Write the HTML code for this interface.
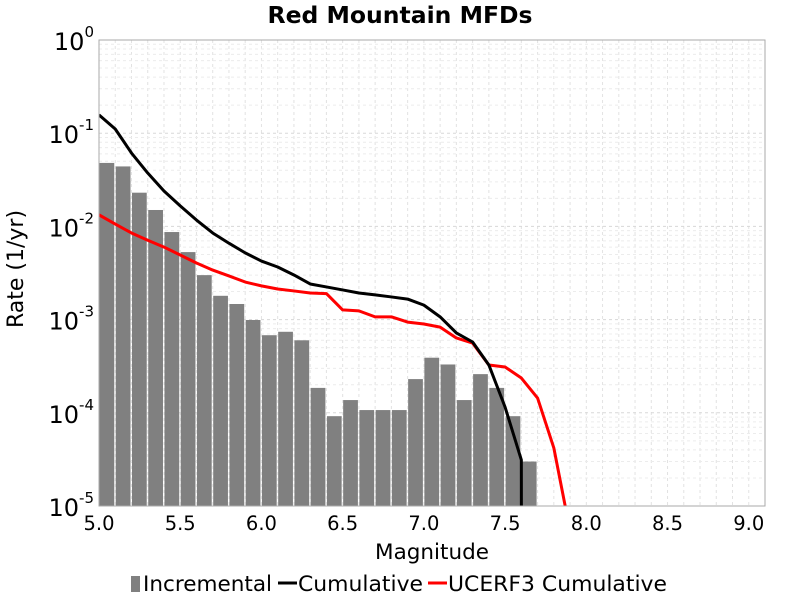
<!DOCTYPE html>
<html><head><meta charset="utf-8"><style>
html,body{margin:0;padding:0;background:#fff;overflow:hidden;width:800px;height:600px;font-family:"DejaVu Sans","Liberation Sans",sans-serif}
svg{display:block}
</style></head><body>
<svg id="c" width="800" height="600" xmlns="http://www.w3.org/2000/svg" font-family="DejaVu Sans, sans-serif">
<text x="400" y="23" text-anchor="middle" font-size="23.5" font-weight="bold">Red Mountain MFDs</text>
<g id="grid"></g><g id="bars"></g><g id="lines"></g><g id="axes"></g>
<text x="432" y="559" text-anchor="middle" font-size="21.5">Magnitude</text>
<text transform="translate(23,269) rotate(-90)" text-anchor="middle" font-size="22">Rate (1/yr)</text>
<g font-size="21">
<g><rect x="131" y="576" width="9" height="16" fill="#808080"/><text x="143" y="591" textLength="129" lengthAdjust="spacingAndGlyphs">Incremental</text></g>
<g><line x1="278" y1="583" x2="297" y2="583" stroke="#000" stroke-width="3"/><text x="298" y="591" textLength="125" lengthAdjust="spacingAndGlyphs">Cumulative</text></g>
<g><line x1="428" y1="583" x2="447" y2="583" stroke="#f00" stroke-width="3"/><text x="448" y="591" textLength="219" lengthAdjust="spacingAndGlyphs">UCERF3 Cumulative</text></g>
</g>
</svg>
<script>
const incMags=[5.0,5.1,5.2,5.3,5.4,5.5,5.6,5.7,5.8,5.9,6.0,6.1,6.2,6.3,6.4,6.5,6.6,6.7,6.8,6.9,7.0,7.1,7.2,7.3,7.4,7.5,7.6];
const incVals=[4.8e-2,4.4e-2,2.3e-2,1.5e-2,8.7e-3,5.3e-3,3.0e-3,1.8e-3,1.47e-3,9.9e-4,6.8e-4,7.4e-4,6.0e-4,1.85e-4,9.2e-5,1.37e-4,1.07e-4,1.07e-4,1.07e-4,2.3e-4,3.9e-4,3.3e-4,1.37e-4,2.6e-4,1.85e-4,9.2e-5,3.0e-5];
const cumMags=[5.0,5.1,5.2,5.3,5.4,5.5,5.6,5.7,5.8,5.9,6.0,6.1,6.2,6.3,6.4,6.5,6.6,6.7,6.8,6.9,7.0,7.1,7.2,7.3,7.4,7.5,7.6,7.601];
const cumVals=[1.57e-1,1.11e-1,6.13e-2,3.74e-2,2.40e-2,1.66e-2,1.17e-2,8.5e-3,6.6e-3,5.2e-3,4.25e-3,3.67e-3,3.01e-3,2.41e-3,2.24e-3,2.08e-3,1.93e-3,1.84e-3,1.75e-3,1.66e-3,1.43e-3,1.07e-3,7.2e-4,5.75e-4,3.26e-4,1.15e-4,3.12e-5,1e-7];
const u3Mags=[5.0,5.1,5.2,5.3,5.4,5.5,5.6,5.7,5.8,5.9,6.0,6.1,6.2,6.3,6.4,6.5,6.6,6.7,6.8,6.9,7.0,7.1,7.2,7.3,7.4,7.5,7.6,7.7,7.8,7.9];
const u3Vals=[1.33e-2,1.06e-2,8.5e-3,7.1e-3,6.0e-3,4.93e-3,4.05e-3,3.40e-3,2.94e-3,2.53e-3,2.30e-3,2.13e-3,2.03e-3,1.93e-3,1.9e-3,1.27e-3,1.24e-3,1.07e-3,1.07e-3,9.4e-4,8.97e-4,8.3e-4,6.35e-4,5.6e-4,3.26e-4,3.1e-4,2.36e-4,1.44e-4,4.2e-5,5.4e-6];
const xTicks=["5.0","5.5","6.0","6.5","7.0","7.5","8.0","8.5","9.0"];
const yExps=[0,-1,-2,-3,-4,-5];
const X0=99,X1=765,Y0=40,Y1=506,xmin=5.0,xmax=9.1;
const sx=m=>X0+(m-xmin)/(xmax-xmin)*(X1-X0);
const sy=v=>Y0+(-Math.log10(v))/5*(Y1-Y0);
const NS="http://www.w3.org/2000/svg";
function mk(t,a,p){const e=document.createElementNS(NS,t);for(const k in a)e.setAttribute(k,a[k]);p.appendChild(e);return e;}
const grid=document.getElementById('grid'),bars=document.getElementById('bars'),lines=document.getElementById('lines'),axes=document.getElementById('axes');
for(let m=5.0;m<=9.05;m+=0.1){const x=sx(m);const l=mk('line',{x1:x,x2:x,y1:Y0,y2:Y1,stroke:'#e2e2e2','stroke-dasharray':'3,3'},grid);}
for(let d=0;d<5;d++)for(let k=1;k<10;k++){const y=sy(k*Math.pow(10,-5+d));const l=mk('line',{x1:X0,x2:X1,y1:y,y2:y,stroke:k==1?'#d8d8d8':'#ececec','stroke-dasharray':'3,3'},grid);}
incMags.forEach((m,i)=>{const x=sx(m),w=sx(m+0.1)-x,y=sy(incVals[i]);const r=mk('rect',{x:x+0.5,y:y,width:w-1.5,height:Y1-y,fill:'#808080'},bars);});
const defs=mk('defs',{},lines);const cp=mk('clipPath',{id:'cp'},defs);mk('rect',{x:X0,y:Y0,width:X1-X0,height:Y1-Y0},cp);
function line(ms,vs,col,name){const p=mk('polyline',{points:ms.map((m,i)=>sx(m)+','+sy(vs[i])).join(' '),fill:'none',stroke:col,'stroke-width':3,'clip-path':'url(#cp)','stroke-linejoin':'round'},lines);}
line(u3Mags,u3Vals,'#f00','ucerf3-cumulative-line');
line(cumMags,cumVals,'#000','cumulative-line');
const fr=mk('rect',{x:X0,y:Y0,width:X1-X0,height:Y1-Y0,fill:'none',stroke:'#aaa'},axes);
xTicks.forEach(t=>{const x=sx(parseFloat(t));const e=mk('text',{x:x,y:530,'text-anchor':'middle','font-size':19.5},axes);e.textContent=t;});
yExps.forEach(p=>{const y=sy(Math.pow(10,p));const e=mk('text',{x:94,y:y+10,'text-anchor':'end','font-size':24},axes);const a=mk('tspan',{},e);a.textContent='10';const b=mk('tspan',{dy:-13,'font-size':15},e);b.textContent=String(p);});
</script>
</body></html>
